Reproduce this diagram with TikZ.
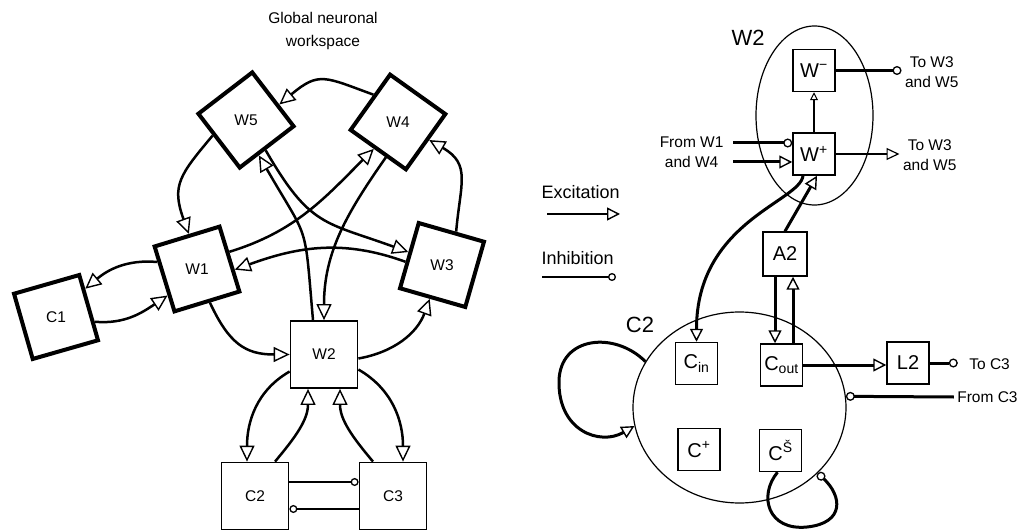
\documentclass[tikz,border=0pt]{standalone}
\usepackage{fontspec}
\setmainfont{Liberation Sans}
\usetikzlibrary{arrows.meta,positioning,calc,shapes.geometric}

\begin{document}
\begin{tikzpicture}[
    x=1pt, y=1pt,
    font=\fontsize{15.5}{20}\selectfont,
    wbox/.style={regular polygon, regular polygon sides=4, draw, line width=4pt,
      minimum size=96pt, inner sep=0pt, shape border rotate=#1},
    cbox/.style={draw, line width=1.8pt, minimum size=67pt, inner sep=0pt},
    ubox/.style={draw, line width=1.5pt, minimum size=42pt, inner sep=0pt,
      font=\fontsize{20}{24}\selectfont},
    zone/.style={draw, ellipse, line width=1.2pt, inner sep=0pt},
    big/.style={font=\fontsize{22}{26}\selectfont},
    exc/.style={line width=2.5pt, -{Triangle[open, length=16pt 0 0, width=15pt 0 0, line width=1.4pt]}},
    inh/.style={line width=2.5pt, -{Circle[open, length=8pt 0 0, width=8pt 0 0, line width=1.3pt]}},
    rexc/.style={line width=3pt, -{Triangle[open, length=13pt 0 0, width=13pt 0 0, line width=1.4pt]}},
    rinh/.style={line width=3pt, -{Circle[open, length=9pt 0 0, width=9pt 0 0, line width=1.3pt]}},
    thinexc/.style={line width=1.3pt, -{Triangle[open, length=13pt 0 0, width=12pt 0 0, line width=1.2pt]}},
  ]
  \useasboundingbox (0,0) rectangle (1026,531);

  % --- Global workspace ---
  \node[font=\fontsize{15.5}{23}\selectfont, align=center] (gnw) at (323,500) {Global neuronal\\workspace};
  \foreach \n/\cx/\cy/\rot in {W5/246/411/37.5, W4/398/409/54.5, W1/197/262/17, W3/442/266/-16, C1/56/214/16} {
    \node[wbox=\rot] (\n) at (\cx,\cy) {\n};
  }
  \node[cbox] (W2) at (324,176.5) {W2};
  \node[cbox] (C2) at (255,35) {C2};
  \node[cbox] (C3) at (393,35) {C3};

  % long-range links
  \draw[exc] (W4.132) to[out=160, in=40, looseness=1.4] (W5.25);
  \draw[exc] (W5.205) to[out=230, in=110, looseness=1.3] (W1.103);
  \draw[exc] (W3.67) to[out=85, in=-30, looseness=1.3] (W4.-30);
  \draw[exc] (W1.28) to[out=17, in=225] (W4.228);
  \draw[exc] (W4.251) to[out=235, in=90] (W2.north);
  \draw[exc] ([xshift=-11pt]W2.north) to[out=95, in=-60, looseness=1.5] (W5.290);
  \draw[exc] (W5.303) to[out=-60, in=160, looseness=1.3] (W3.159);
  \draw[exc] (W3.175) to[out=160, in=20] (W1.-1);
  \draw[exc] (W1.170) to[out=175, in=40] (C1.44);
  \draw[exc] (C1.-7) to[out=-5, in=214] (W1.222);
  \draw[exc] (W1.291) to[out=-65, in=180, looseness=1.2] (W2.west);
  \draw[exc] ([yshift=-4pt]W2.east) to[out=10, in=250] (W3.250);

  % W2 <-> C2, C3
  \draw[exc] ([yshift=-17pt]W2.west) to[out=210, in=90] ([xshift=-8pt]C2.north);
  \draw[exc] ([xshift=20pt]C2.north) to[out=50, in=270] ([xshift=-16pt]W2.south);
  \draw[exc] ([xshift=-20pt]C3.north) to[out=130, in=270] ([xshift=16pt]W2.south);
  \draw[exc] ([yshift=-15pt]W2.east) to[out=-30, in=90] ([xshift=10pt]C3.north);
  \draw[inh] ([yshift=14pt]C2.east) -- ([yshift=14pt]C3.west);
  \draw[inh, line width=1.5pt] ([yshift=-13pt]C3.west) -- ([yshift=-13pt]C2.east);

  % --- Legend ---
  \node[anchor=west, font=\fontsize{18}{22}\selectfont] (excl) at (538,339) {Excitation};
  \node[anchor=west, font=\fontsize{18}{22}\selectfont] (inhl) at (538,273) {Inhibition};
  \coordinate (excA) at (547,317);
  \coordinate (excB) at (620,317);
  \coordinate (inhA) at (542,254);
  \coordinate (inhB) at (616,254);
  \draw[rexc, line width=2.2pt] (excA) -- (excB);
  \draw[inh, line width=1.5pt] (inhA) -- (inhB);

  % --- W2 in detail ---
  \node[zone, minimum width=117pt, minimum height=179pt] (Wzoom) at (814.5,415.5) {};
  \node[big] (Wzl) at (748,493) {W2};
  \node[ubox] (Wm) at (814,460.5) {W\textsuperscript{−}};
  \node[ubox] (Wp) at (814,377) {W\textsuperscript{+}};
  \node[anchor=west, align=center] (toWm) at (901.5,459) {To W3\\and W5};
  \node[anchor=west, align=center] (toWp) at (899.5,375.5) {To W3\\and W5};
  \node[anchor=east, align=center] (fromW) at (727,378.5) {From W1\\and W4};
  \node[ubox, minimum size=44pt] (A2) at (785,277) {A2};

  \draw[line width=1.2pt, -{Triangle[open, length=8pt 0 0, width=8pt 0 0, line width=1pt]}] (Wp.north) -- (Wm.south);
  \draw[rinh] (Wm.east) -- (Wm.east -| toWm.west);
  \draw[thinexc] (Wp.east) -- (Wp.east -| toWp.west);
  \draw[rinh] ([xshift=6pt, yshift=9.5pt]fromW.east) -- ([yshift=11pt]Wp.west);
  \draw[rexc] ([xshift=6pt, yshift=-9.5pt]fromW.east) -- ([yshift=-8pt]Wp.west);
  \draw[rexc] (A2.north) -- ([xshift=3pt]Wp.south);

  % --- C2 in detail ---
  \node[zone, minimum width=213pt, minimum height=191pt] (Czoom) at (739.5,123.5) {};
  \node[big] (Czl) at (640,206) {C2};
  \node[ubox] (Cin) at (696.5,167.5) {C\textsubscript{in}};
  \node[ubox] (Cout) at (781.5,166) {C\textsubscript{out}};
  \node[ubox] (Cplus) at (699,81.5) {C\textsuperscript{+}};
  \node[ubox] (Cs) at (780.5,80.5) {C\textsuperscript{Š}};
  \node[ubox] (L2) at (908,168) {L2};
  \node[anchor=west] (toC) at (965.8,167) {To C3};
  \node[anchor=west] (fromC) at (953.8,134) {From C3};

  \draw[rexc] ([xshift=-11pt]Wp.south) .. controls +(-3,-26) and +(0,120) .. (Cin.north);
  \draw[rexc] ([xshift=-10pt]A2.south) -- ([xshift=-10pt]A2.south |- Cout.north);
  \draw[rexc] ([xshift=8pt]A2.south |- Cout.north) -- ([xshift=8pt]A2.south);
  \draw[rexc] (Cout.east) -- (Cout.east -| L2.west);
  \draw[rinh] (L2.east) -- ([xshift=-8pt]toC.west |- L2.east);
  \draw[rinh] (fromC.west) -- (Czoom.6);
  % recurrent loops
  \draw[rexc] (Czoom.154) .. controls (615,200) and (560,195) .. (559,150)
    .. controls (558,100) and (600,85) .. (Czoom.190);
  \draw[rinh] ([xshift=-3pt]Cs.south) .. controls (758,35) and (768,0) .. (807,4)
    .. controls (845,8) and (842,35) .. (Czoom.-40);
\end{tikzpicture}
\end{document}
